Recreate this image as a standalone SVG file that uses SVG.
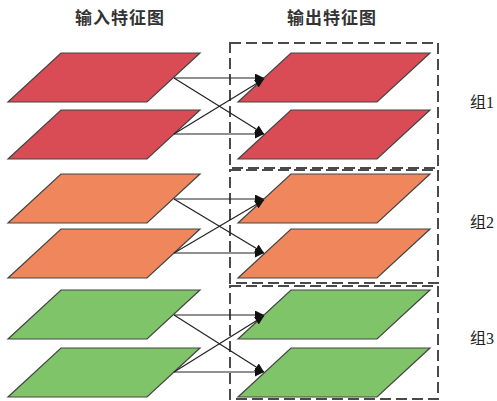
<svg xmlns="http://www.w3.org/2000/svg" width="497" height="401" viewBox="0 0 497 401">
<style>
.t{font-family:"Noto Sans CJK SC","Liberation Sans",sans-serif;font-size:17px;font-weight:bold;fill:#333;text-anchor:middle;letter-spacing:1px}
.g{font-family:"Liberation Serif","Noto Sans CJK SC",serif;font-size:16px;fill:#222}
.pr{stroke:#444;stroke-width:1.2;fill:#d94c55}
.po{stroke:#444;stroke-width:1.2;fill:#f0875c}
.pg{stroke:#444;stroke-width:1.2;fill:#80c46a}
.box{fill:none;stroke:#4a4a4a;stroke-width:2;stroke-dasharray:11 5}
.c{stroke:#222;stroke-width:1.2;fill:none;marker-end:url(#ah)}
</style>
<defs>
<marker id="ah" viewBox="0 0 10 10" refX="10" refY="5" markerWidth="9" markerHeight="9" markerUnits="userSpaceOnUse" orient="auto">
<path d="M0,0 L10,5 L0,10 z" fill="#111"/>
</marker>
<path id="para" d="M53,0 H192 L139,49 H0 Z"/>
</defs>
<rect width="497" height="401" fill="#fff"/>
<text class="t" x="120" y="24">输入特征图</text>
<text class="t" x="332" y="24">输出特征图</text>
<g id="box1"><rect class="box" x="230" y="43" width="208" height="125"/><text class="g" x="470" y="108">组1</text></g>
<g id="box2"><rect class="box" x="230" y="170" width="208" height="113"/><text class="g" x="470" y="228">组2</text></g>
<g id="box3"><rect class="box" x="230" y="286" width="208" height="113"/><text class="g" x="470" y="344">组3</text></g>
<g id="in1a"><use href="#para" class="pr" x="8" y="53"/></g>
<g id="in1b"><use href="#para" class="pr" x="8" y="110"/></g>
<g id="out1a"><use href="#para" class="pr" x="238" y="53"/></g>
<g id="out1b"><use href="#para" class="pr" x="238" y="110"/></g>
<g id="in2a"><use href="#para" class="po" x="8" y="174"/></g>
<g id="in2b"><use href="#para" class="po" x="8" y="229"/></g>
<g id="out2a"><use href="#para" class="po" x="238" y="174"/></g>
<g id="out2b"><use href="#para" class="po" x="238" y="229"/></g>
<g id="in3a"><use href="#para" class="pg" x="8" y="290"/></g>
<g id="in3b"><use href="#para" class="pg" x="8" y="348"/></g>
<g id="out3a"><use href="#para" class="pg" x="238" y="290"/></g>
<g id="out3b"><use href="#para" class="pg" x="238" y="348"/></g>
<g id="connectors">
<path class="c" d="M174,78 H264"/>
<path class="c" d="M174,134 L264,79"/>
<path class="c" d="M174,78 L264,134"/>
<path class="c" d="M174,134 H264"/>
<path class="c" d="M174,199 H264"/>
<path class="c" d="M174,253 L264,200"/>
<path class="c" d="M174,199 L264,253"/>
<path class="c" d="M174,253 H264"/>
<path class="c" d="M174,315 H264"/>
<path class="c" d="M174,372 L264,316"/>
<path class="c" d="M174,315 L264,372"/>
<path class="c" d="M174,372 H264"/>
</g>
</svg>
